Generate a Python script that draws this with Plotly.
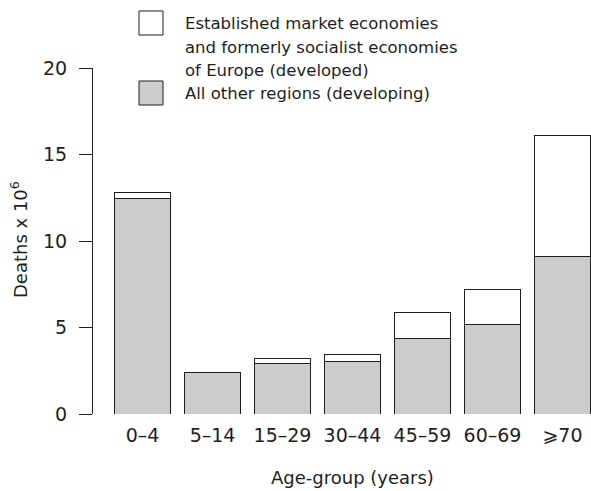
import plotly.graph_objects as go

# Deaths (millions) by age group, 1990
age_groups = ["0–4", "5–14", "15–29", "30–44", "45–59", "60–69", "⩾70"]
developing = [12.45, 2.40, 2.90, 3.02, 4.35, 5.15, 9.13]
developed = [0.35, 0.00, 0.31, 0.40, 1.52, 2.03, 6.96]
y_ticks = [0, 5, 10, 15, 20]

legend_labels = [
    ["Established market economies",
     "and formerly socialist economies",
     "of Europe (developed)"],
    ["All other regions (developing)"],
]

W, H = 591, 491
ML, MR, MT, MB = 93, 0, 68, 77
PW, PH = W - ML - MR, H - MT - MB

FONT = "DejaVu Sans"
INK = "#1e1e1e"
GREY = "#cccccc"


def px(xp):
    return (xp - ML) / PW


def py(yp):
    return (H - MB - yp) / PH


xpos = list(range(len(age_groups)))

fig = go.Figure()
fig.add_trace(go.Bar(
    x=xpos, y=developing, width=0.786,
    marker=dict(color=GREY, line=dict(color=INK, width=1)),
    name="developing", showlegend=False,
))
fig.add_trace(go.Bar(
    x=xpos, y=developed, width=0.786,
    marker=dict(color="white", line=dict(color=INK, width=1)),
    name="developed", showlegend=False,
))

shapes = []
annotations = []

# hand-built legend: boxes plus text lines
box_tops = [11, 81]
line_centres = [[24, 47, 70], [93]]
for top, lines, centres, fill in zip(box_tops, legend_labels, line_centres, ["white", GREY]):
    shapes.append(dict(type="rect", xref="paper", yref="paper",
                       x0=px(139), x1=px(163), y0=py(top), y1=py(top + 24),
                       fillcolor=fill, line=dict(color=INK, width=1)))
    for text, c in zip(lines, centres):
        annotations.append(dict(text=text, xref="paper", yref="paper",
                                x=px(183), y=py(c), xanchor="left", yanchor="middle",
                                showarrow=False, font=dict(family=FONT, size=16.5, color=INK)))

# axis titles
annotations.append(dict(text="Age-group (years)", xref="x", yref="paper",
                        x=3, y=py(477), xanchor="center", yanchor="middle",
                        showarrow=False, font=dict(family=FONT, size=18, color=INK)))
annotations.append(dict(text="Deaths x 10<sup>6</sup>", xref="paper", yref="paper",
                        x=px(19), y=py(240), xanchor="center", yanchor="middle",
                        textangle=-90, showarrow=False,
                        font=dict(family=FONT, size=18, color=INK)))

fig.update_layout(
    width=W, height=H,
    margin=dict(l=ML, r=MR, t=MT, b=MB, pad=0),
    paper_bgcolor="white", plot_bgcolor="white",
    barmode="stack",
    font=dict(family=FONT, color=INK),
    shapes=shapes, annotations=annotations,
    xaxis=dict(range=[(93 - 142.5) / 70, (591 - 142.5) / 70],
               tickvals=xpos, ticktext=age_groups,
               showline=False, showgrid=False, zeroline=False, ticks="",
               ticklabelstandoff=8,
               tickfont=dict(family=FONT, size=19, color=INK)),
    yaxis=dict(range=[0, 20], tickvals=y_ticks,
               showline=True, linecolor=INK, linewidth=1,
               ticks="outside", ticklen=13, tickcolor=INK, tickwidth=1,
               showgrid=False, zeroline=False,
               ticklabelstandoff=8,
               tickfont=dict(family=FONT, size=19, color=INK)),
)

fig.write_html("out.html")
